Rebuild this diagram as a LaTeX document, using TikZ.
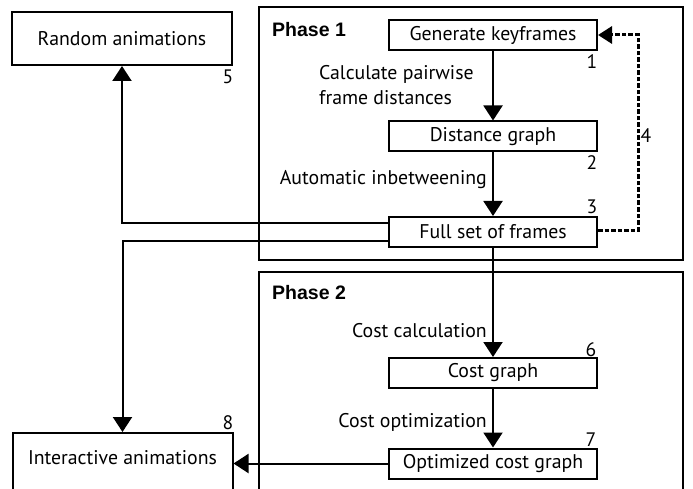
\documentclass[tikz,border=0pt]{standalone}
\usepackage{fontspec}
\setmainfont{PT Sans}
\newfontfamily\headfont{Liberation Sans}
\usetikzlibrary{arrows.meta}
\begin{document}
\begin{tikzpicture}[x=1pt, y=-1pt,
  every node/.style={font=\fontsize{19.8}{25}\selectfont, inner sep=0pt},
  box/.style={draw, line width=2pt, minimum width=208pt, minimum height=30pt},
  phasebox/.style={draw, line width=2pt},
  phaselabel/.style={anchor=west, font=\headfont\bfseries\fontsize{19.5}{20}\selectfont},
  num/.style={font=\fontsize{19.5}{20}\selectfont},
  steplabel/.style={anchor=east},
  flow/.style={line width=2pt, -{Triangle[width=19pt, length=15pt]}},
  feedback/.style={line width=3pt, dash pattern=on 4.5pt off 2pt, -{Triangle[width=17pt, length=14pt]}}
]
\useasboundingbox (0,0) rectangle (693,489);
\clip (0,0) rectangle (693,489);

% phase frames
\draw[phasebox] (259,7) rectangle (683,260);
\draw[phasebox] (259,272) rectangle (683,510);
\node[phaselabel] (ph1) at (272,30) {Phase 1};
\node[phaselabel] (ph2) at (272,293) {Phase 2};

% boxes
\node[box, minimum width=220pt, minimum height=53pt] (random) at (122,38.5) {Random animations};
\node[box] (gen) at (493,35) {Generate keyframes};
\node[box] (dist) at (493,136.5) {Distance graph};
\node[box] (full) at (493,232) {Full set of frames};
\node[box] (cost) at (493,373) {Cost graph};
\node[box] (opt) at (493,463.5) {Optimized cost graph};
\node[box, minimum width=220pt, minimum height=80pt, anchor=north] (inter) at (122.5,432) {};
\node (intertext) at (122.5,458) {Interactive animations};

% step numbers
\node[num] (n1) at (592,62) {1};
\node[num] (n2) at (592,163) {2};
\node[num] (n3) at (592,207) {3};
\node[num] (n4) at (646,136) {4};
\node[num] (n5) at (228,77) {5};
\node[num] (n6) at (591,350) {6};
\node[num] (n7) at (591,440) {7};
\node[num] (n8) at (228,423) {8};

% edge labels
\node[anchor=west, align=left] (lcalc) at (319,85.5) {Calculate pairwise\\frame distances};
\node[steplabel] (lauto) at (487,180) {Automatic inbetweening};
\node[steplabel] (lcost) at (487,331) {Cost calculation};
\node[steplabel] (lopt) at (487,422) {Cost optimization};

% helper points
\coordinate (fbA) at (638,230);
\coordinate (upA) at ([yshift=9pt]full.west);
\coordinate (dnA) at ([yshift=-9pt]full.west);

% connectors
\draw[flow] (gen.south) -- (dist.north);
\draw[flow] (dist.south) -- (full.north);
\draw[flow] (full.south) -- (cost.north);
\draw[flow] (cost.south) -- (opt.north);
\draw[flow] (opt.west) -- (inter.east |- opt.west);
\draw[feedback] (full.east |- fbA) -- (fbA) |- (gen.east);
\draw[flow] (upA) -| (random.south);
\draw[flow] (dnA) -| (inter.north);
\end{tikzpicture}
\end{document}
